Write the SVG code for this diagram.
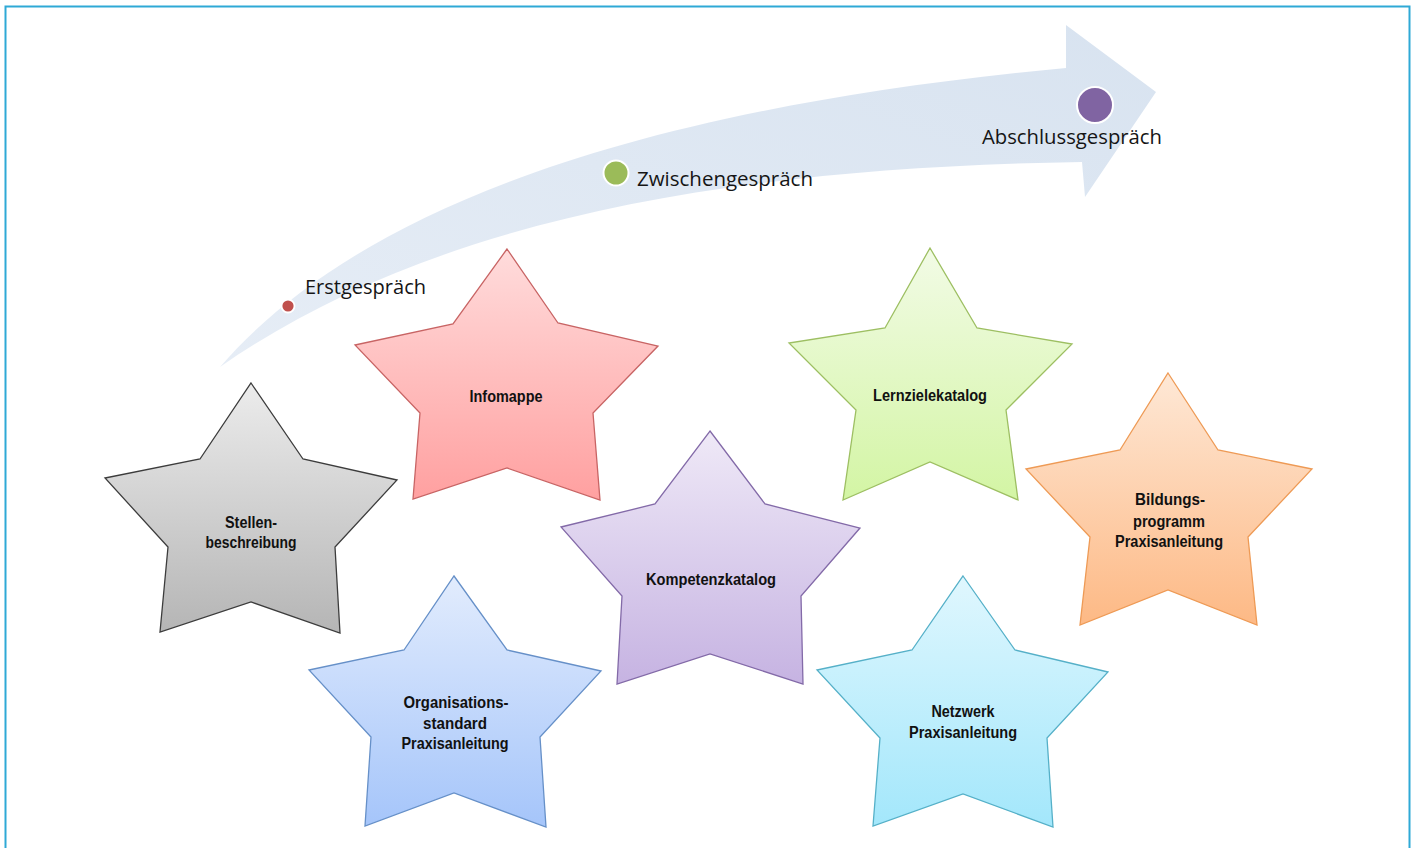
<svg xmlns="http://www.w3.org/2000/svg" width="1416" height="848" viewBox="0 0 1416 848">
<defs>
<style>
.lbl{font-family:"Liberation Sans",Arial,sans-serif;font-weight:bold;font-size:16px;fill:#111;text-anchor:middle}
.stg{font-family:"Open Sans","Liberation Sans",sans-serif;font-size:20px;fill:#151515}
.star{stroke-width:1.3;stroke-linejoin:miter}
</style>
<linearGradient id="band" x1="0" y1="1" x2="1" y2="0">
<stop offset="0" stop-color="#e6edf6"/><stop offset="1" stop-color="#d8e3f0"/>
</linearGradient>
<linearGradient id="gGray" x1="0" y1="0" x2="0" y2="1"><stop offset="0" stop-color="#ececec"/><stop offset="1" stop-color="#b5b5b5"/></linearGradient>
<linearGradient id="gRed" x1="0" y1="0" x2="0" y2="1"><stop offset="0" stop-color="#ffdcdc"/><stop offset="1" stop-color="#ffa0a0"/></linearGradient>
<linearGradient id="gGreen" x1="0" y1="0" x2="0" y2="1"><stop offset="0" stop-color="#f2fbe6"/><stop offset="1" stop-color="#d3f5a4"/></linearGradient>
<linearGradient id="gPurple" x1="0" y1="0" x2="0" y2="1"><stop offset="0" stop-color="#efe9f7"/><stop offset="1" stop-color="#c6b3e2"/></linearGradient>
<linearGradient id="gBlue" x1="0" y1="0" x2="0" y2="1"><stop offset="0" stop-color="#e2ecfd"/><stop offset="1" stop-color="#a5c5fa"/></linearGradient>
<linearGradient id="gCyan" x1="0" y1="0" x2="0" y2="1"><stop offset="0" stop-color="#e0f7fe"/><stop offset="1" stop-color="#a3e7fb"/></linearGradient>
<linearGradient id="gOrange" x1="0" y1="0" x2="0" y2="1"><stop offset="0" stop-color="#fee8d6"/><stop offset="1" stop-color="#fdb985"/></linearGradient>
</defs>
<rect x="0" y="0" width="1416" height="848" fill="#ffffff"/>
<rect x="5.5" y="6.5" width="1404" height="900" fill="none" stroke="#2fa9d6" stroke-width="2"/>

<g id="timeline">
<path d="M220,367 C330,240 560,115 1066,68 L1066,25 L1156,92 L1085,197 L1082,162 C700,168 420,228 220,367 Z" fill="url(#band)"/>
<circle cx="288" cy="306" r="6.5" fill="#c0504d" stroke="#ffffff" stroke-width="1.8"/>
<text class="stg" x="305" y="294" textLength="121" lengthAdjust="spacingAndGlyphs">Erstgespräch</text>
<circle cx="616" cy="173" r="12.5" fill="#9bbb59" stroke="#ffffff" stroke-width="2"/>
<text class="stg" x="637" y="186" textLength="176" lengthAdjust="spacingAndGlyphs">Zwischengespräch</text>
<circle cx="1095" cy="105" r="18" fill="#8064a2" stroke="#ffffff" stroke-width="2"/>
<text class="stg" x="982" y="144" textLength="180" lengthAdjust="spacingAndGlyphs">Abschlussgespräch</text>
</g>

<g id="connectors"></g>

<g id="star-stellen">
<polygon class="star" fill="url(#gGray)" stroke="#3c3c3c" points="251,383 303,459 397,480 335,547 340,633 251,602 160,632 168,547 105,478 200,459"/>
<text class="lbl" x="251" y="528" textLength="52" lengthAdjust="spacingAndGlyphs">Stellen-</text>
<text class="lbl" x="251" y="548" textLength="91" lengthAdjust="spacingAndGlyphs">beschreibung</text>
</g>

<g id="star-infomappe">
<polygon class="star" fill="url(#gRed)" stroke="#c86464" points="507,249 558,323 658,346 593,413 600,500 507,468 413,499 420,413 355,345 453,324"/>
<text class="lbl" x="506" y="402" textLength="73" lengthAdjust="spacingAndGlyphs">Infomappe</text>
</g>

<g id="star-lernziele">
<polygon class="star" fill="url(#gGreen)" stroke="#9dbf62" points="930,248 977,328 1072,344 1006,410 1018,500 930,462 843,500 856,410 789,343 885,328"/>
<text class="lbl" x="930" y="401" textLength="114" lengthAdjust="spacingAndGlyphs">Lernzielekatalog</text>
</g>

<g id="star-kompetenz">
<polygon class="star" fill="url(#gPurple)" stroke="#836aa8" points="710,431 765,504 860,528 801,596 803,684 710,654 617,684 622,596 561,527 655,504"/>
<text class="lbl" x="711" y="585" textLength="130" lengthAdjust="spacingAndGlyphs">Kompetenzkatalog</text>
</g>

<g id="star-bildung">
<polygon class="star" fill="url(#gOrange)" stroke="#ee9a55" points="1168,373 1218,450 1312,469 1248,537 1257,625 1168,590 1080,625 1090,537 1026,469 1120,450"/>
<text class="lbl" x="1170" y="505" textLength="70" lengthAdjust="spacingAndGlyphs">Bildungs-</text>
<text class="lbl" x="1169" y="527" textLength="72" lengthAdjust="spacingAndGlyphs">programm</text>
<text class="lbl" x="1169" y="547" textLength="108" lengthAdjust="spacingAndGlyphs">Praxisanleitung</text>
</g>

<g id="star-organisation">
<polygon class="star" fill="url(#gBlue)" stroke="#6690c8" points="454,576 507,650 601,671 540,737 546,827 454,793 365,826 371,737 309,670 404,650"/>
<text class="lbl" x="456" y="708" textLength="105" lengthAdjust="spacingAndGlyphs">Organisations-</text>
<text class="lbl" x="455" y="729" textLength="64" lengthAdjust="spacingAndGlyphs">standard</text>
<text class="lbl" x="455" y="749" textLength="107" lengthAdjust="spacingAndGlyphs">Praxisanleitung</text>
</g>

<g id="star-netzwerk">
<polygon class="star" fill="url(#gCyan)" stroke="#55b0c8" points="963,576 1015,650 1108,672 1047,738 1053,827 963,794 873,826 880,738 817,670 912,650"/>
<text class="lbl" x="963" y="717" textLength="63" lengthAdjust="spacingAndGlyphs">Netzwerk</text>
<text class="lbl" x="963" y="738" textLength="108" lengthAdjust="spacingAndGlyphs">Praxisanleitung</text>
</g>
</svg>
